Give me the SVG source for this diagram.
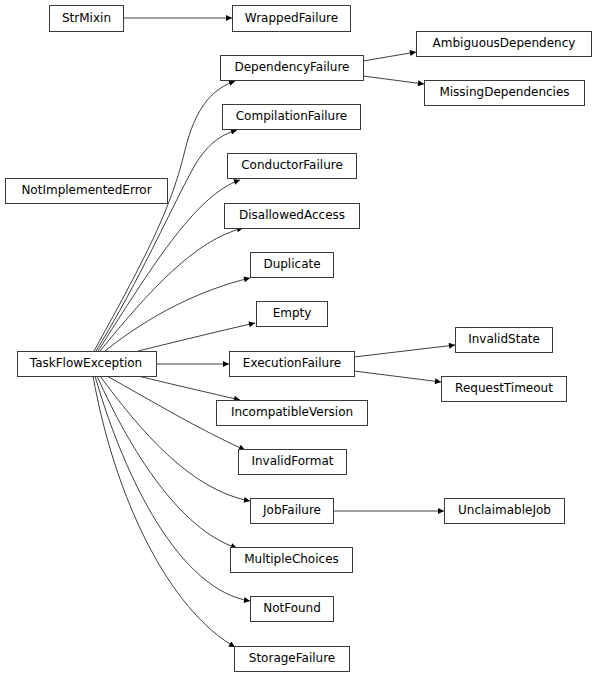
<svg xmlns="http://www.w3.org/2000/svg" width="597" height="677" viewBox="0 0 597 677">
<style>
.n rect{fill:#fff;stroke:#3a3a3a;stroke-width:1}
.n text{font-family:"DejaVu Sans",sans-serif;font-size:12px;fill:#000;text-anchor:middle}
.e path{fill:none;stroke:#000;stroke-width:0.75}
</style>
<defs>
<marker id="ah" viewBox="0 0 10 10" refX="10" refY="5" markerUnits="userSpaceOnUse" markerWidth="9" markerHeight="6" orient="auto">
<path d="M0,0 L10,5 L0,10 z" fill="#000"/>
</marker>
</defs>
<rect width="597" height="677" fill="#fff"/>
<g class="e">
<path d="M124,18 L232,18" marker-end="url(#ah)"/>
<path d="M363,61 L416,52" marker-end="url(#ah)"/>
<path d="M363,76 L424,84" marker-end="url(#ah)"/>
<path d="M94,351 C150,250 172,205 185,150 C195,110 210,90 235,81" marker-end="url(#ah)"/>
<path d="M96,351 C140,280 175,200 195,165 C207,145 220,135 237,130" marker-end="url(#ah)"/>
<path d="M98,351 C150,270 195,195 240,180" marker-end="url(#ah)"/>
<path d="M100,351 C150,290 195,240 243,228" marker-end="url(#ah)"/>
<path d="M105,351 C150,315 200,290 250,278" marker-end="url(#ah)"/>
<path d="M138,351 C175,342 215,332 255,323" marker-end="url(#ah)"/>
<path d="M156,364 L229,364" marker-end="url(#ah)"/>
<path d="M138,376 C175,385 210,393 240,400" marker-end="url(#ah)"/>
<path d="M107,376 C150,400 200,430 245,450" marker-end="url(#ah)"/>
<path d="M100,376 C140,430 190,490 250,501" marker-end="url(#ah)"/>
<path d="M97,376 C130,450 180,530 237,548" marker-end="url(#ah)"/>
<path d="M95,376 C125,480 180,590 250,601" marker-end="url(#ah)"/>
<path d="M93,376 C115,500 170,610 235,647" marker-end="url(#ah)"/>
<path d="M354,357 L455,345" marker-end="url(#ah)"/>
<path d="M354,371 L441,382" marker-end="url(#ah)"/>
<path d="M333,511 L444,511" marker-end="url(#ah)"/>
</g>
<g id="StrMixin" class="n"><rect x="49.5" y="5.5" width="74" height="26"/><text x="86.5" y="21.5">StrMixin</text></g>
<g id="WrappedFailure" class="n"><rect x="232.5" y="5.5" width="118" height="26"/><text x="291.5" y="21.5">WrappedFailure</text></g>
<g id="AmbiguousDependency" class="n"><rect x="416.5" y="31.5" width="175" height="25"/><text x="504" y="47">AmbiguousDependency</text></g>
<g id="DependencyFailure" class="n"><rect x="220.5" y="55.5" width="143" height="25"/><text x="292" y="71">DependencyFailure</text></g>
<g id="MissingDependencies" class="n"><rect x="424.5" y="80.5" width="160" height="25"/><text x="504.5" y="96">MissingDependencies</text></g>
<g id="CompilationFailure" class="n"><rect x="222.5" y="104.5" width="138" height="25"/><text x="291.5" y="120">CompilationFailure</text></g>
<g id="ConductorFailure" class="n"><rect x="227.5" y="153.5" width="129" height="25"/><text x="292" y="169">ConductorFailure</text></g>
<g id="NotImplementedError" class="n"><rect x="5.5" y="178.5" width="162" height="25"/><text x="86.5" y="194">NotImplementedError</text></g>
<g id="DisallowedAccess" class="n"><rect x="224.5" y="203.5" width="135" height="25"/><text x="292" y="219">DisallowedAccess</text></g>
<g id="Duplicate" class="n"><rect x="250.5" y="252.5" width="83" height="25"/><text x="292" y="268">Duplicate</text></g>
<g id="Empty" class="n"><rect x="256.5" y="301.5" width="71" height="25"/><text x="292" y="317">Empty</text></g>
<g id="InvalidState" class="n"><rect x="455.5" y="327.5" width="97" height="25"/><text x="504" y="343">InvalidState</text></g>
<g id="TaskFlowException" class="n"><rect x="17.5" y="351.5" width="139" height="25"/><text x="86" y="367">TaskFlowException</text></g>
<g id="ExecutionFailure" class="n"><rect x="229.5" y="351.5" width="125" height="25"/><text x="292" y="367">ExecutionFailure</text></g>
<g id="RequestTimeout" class="n"><rect x="441.5" y="376.5" width="125" height="25"/><text x="504" y="392">RequestTimeout</text></g>
<g id="IncompatibleVersion" class="n"><rect x="216.5" y="400.5" width="151" height="25"/><text x="292" y="416">IncompatibleVersion</text></g>
<g id="InvalidFormat" class="n"><rect x="238.5" y="449.5" width="108" height="25"/><text x="292.5" y="465">InvalidFormat</text></g>
<g id="JobFailure" class="n"><rect x="250.5" y="498.5" width="83" height="25"/><text x="292" y="514">JobFailure</text></g>
<g id="UnclaimableJob" class="n"><rect x="444.5" y="498.5" width="120" height="25"/><text x="504.5" y="514">UnclaimableJob</text></g>
<g id="MultipleChoices" class="n"><rect x="230.5" y="547.5" width="122" height="25"/><text x="291.5" y="563">MultipleChoices</text></g>
<g id="NotFound" class="n"><rect x="250.5" y="596.5" width="83" height="25"/><text x="292" y="612">NotFound</text></g>
<g id="StorageFailure" class="n"><rect x="234.5" y="646.5" width="115" height="25"/><text x="292" y="662">StorageFailure</text></g>
</svg>
